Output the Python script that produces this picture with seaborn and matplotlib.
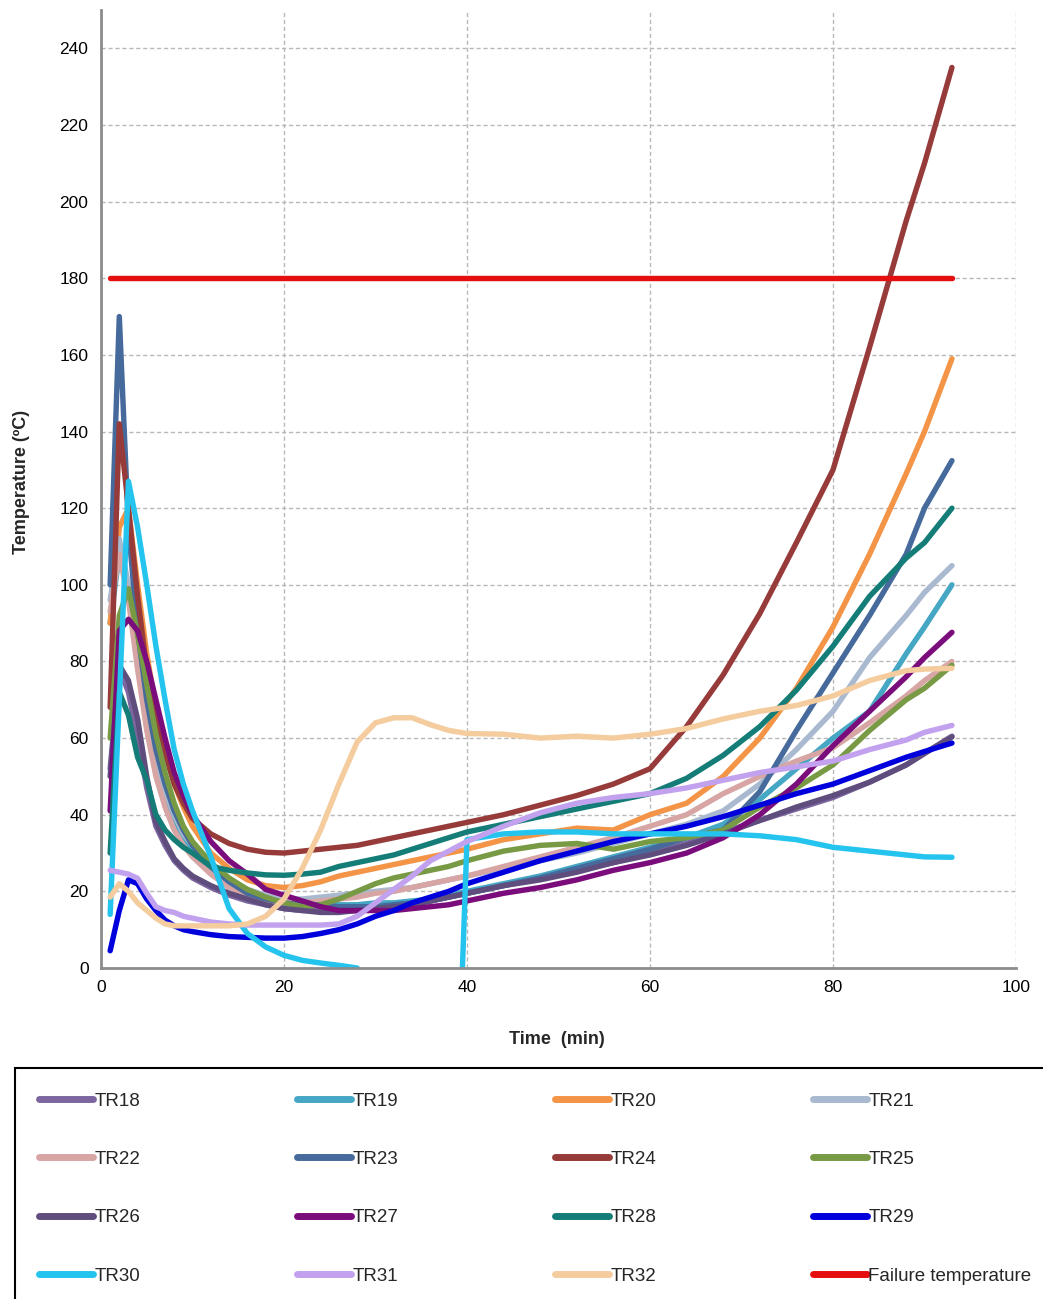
import numpy as np
import pandas as pd
import matplotlib
matplotlib.use("Agg")
import matplotlib.pyplot as plt
import seaborn as sns
from matplotlib.lines import Line2D

# ---------------- data ----------------
TIME = [1, 2, 3, 4, 5, 6, 7, 8, 9, 10,
        12, 14, 16, 18, 20, 22, 24, 26, 28, 30, 32, 34, 36, 38, 40,
        44, 48, 52, 56, 60, 64, 68, 72, 76, 80, 84, 88,
        90, 93]

TR18 = [52, 78, 72, 60, 47, 37, 32, 28, 25.5, 23.5,
        21, 19, 17.5, 16.5, 15.5, 15, 15, 15, 15, 15.5, 16, 16.5, 17.5, 18.5, 19.5,
        21.5, 23.5, 25.5, 27.5, 30, 32.5, 35.5, 38.5, 41.5, 44.5, 48.5, 53,
        56, 60.5]
TR19 = [90, 108, 98, 80, 64, 52, 44, 38, 34, 31,
        26, 22, 19.5, 18, 17, 16.5, 16.5, 16.5, 16.5, 17, 17, 17.5, 18, 19, 20,
        22, 24, 26.5, 29, 31.5, 34, 37.5, 44, 52, 60, 67, 82,
        89, 100]
TR20 = [90, 115, 120, 100, 82, 68, 57, 48, 42, 37,
        30, 26, 23, 21.5, 21, 21.5, 22.5, 24, 25, 26, 27, 28, 29, 30, 31,
        33.5, 35, 36.5, 36, 40, 43, 50, 60, 73, 89, 108, 129,
        140, 159]
TR21 = [96, 112, 100, 82, 66, 54, 46, 40, 35, 32,
        27, 23, 20.5, 19, 18, 18, 18.5, 19, 19.5, 20, 20.5, 21, 22, 23, 24,
        26, 28, 30, 32.5, 35, 37.5, 41, 48, 57, 67, 81, 92,
        98, 105]
TR22 = [93, 108, 96, 78, 62, 50, 42, 36, 32, 29,
        24.5, 21, 19, 17.5, 17, 17, 17.5, 18, 18.5, 19.5, 20, 21, 22, 23, 24,
        26.5, 29, 31.5, 34, 37, 40, 45.5, 50, 54, 57.5, 64, 71,
        75, 80]
TR23 = [100, 170, 115, 88, 70, 57, 48, 41, 36, 32,
        26.5, 22.5, 19.5, 18, 17, 16.5, 16.5, 16, 16, 16, 16.5, 17, 17.5, 18.5, 19.5,
        21.5, 23.5, 26, 28.5, 31, 34, 36, 46, 62, 77, 92, 108,
        120, 132.4]
TR24 = [68, 142, 120, 97, 78, 65, 56, 48, 43, 39,
        35, 32.5, 31, 30.2, 30, 30.5, 31, 31.5, 32, 33, 34, 35, 36, 37, 38,
        40, 42.5, 45, 48, 52, 63, 76.5, 92.5, 111, 130, 162, 195,
        210, 235]
TR25 = [60, 92, 99, 87, 74, 61, 51, 43, 37, 33,
        27.5, 23.5, 20.5, 18.5, 17, 16, 16.5, 18, 20, 22, 23.5, 24.5, 25.5, 26.5, 28,
        30.5, 32, 32.5, 31, 33, 34, 36, 42, 47, 53, 62, 70,
        73, 79]
TR26 = [50, 79, 75, 65, 50, 38, 33, 28.5, 26, 24,
        21.5, 19.5, 18, 16.5, 15.5, 15, 14.5, 14.5, 15, 15.5, 16, 16.5, 17.5, 18.5, 19.5,
        21.5, 23, 25, 27.5, 29.5, 32, 35, 38.5, 42, 45, 48.5, 53,
        56, 60.3]
TR27 = [41, 88, 91, 88, 80, 70, 60, 51, 45, 40,
        33, 28, 24.5, 20.5, 19, 17.5, 16, 15, 15, 15, 15, 15.5, 16, 16.5, 17.5,
        19.5, 21, 23, 25.5, 27.5, 30, 34, 40, 48, 58, 67, 76,
        81, 87.6]
TR28 = [30, 72, 66, 55, 49, 40, 36, 33.5, 31.5, 30,
        26.5, 25.5, 24.8, 24.3, 24.2, 24.5, 25, 26.5, 27.5, 28.5, 29.5, 31, 32.5, 34, 35.5,
        37.5, 39.5, 41.5, 43.5, 45.5, 49.5, 55.5, 63, 72.5, 84, 97, 107,
        111, 120]
TR29 = [4.5, 15, 23, 22, 18, 15, 12.5, 11, 10, 9.5,
        8.7, 8.2, 8, 7.8, 7.8, 8.2, 9, 10, 11.5, 13.5, 15, 17, 18.5, 20, 22,
        25, 28, 30.5, 33, 35, 37, 39.5, 42.5, 45.5, 48, 51.5, 55,
        56.5, 58.7]
TR31 = [25.5, 25, 24.5, 23.4, 19.5, 16, 15, 14.5, 13.5, 13,
        12, 11.5, 11.2, 11.2, 11.2, 11.2, 11.2, 11.5, 13.5, 17, 20.5, 24, 28, 30.5, 33,
        37, 40.5, 43, 44.5, 45.5, 47, 49, 51, 52.5, 54, 57, 59.5,
        61.5, 63.3]
TR32 = [18.5, 22, 20, 17, 15, 13, 11.5, 11, 11, 11,
        11, 11, 11.5, 13.5, 18, 26, 36, 48, 59, 64, 65.3, 65.3, 63.5, 62, 61.2,
        61, 60, 60.5, 60, 61, 62.5, 65, 67, 68.5, 71, 75, 77.6,
        78, 78.2]

# TR30 has a gap (sensor off-scale) between ~28 and ~39.5 min
TR30_TIME_A = [1, 2, 3, 4, 5, 6, 7, 8, 9, 10, 12, 14, 16, 18, 20, 22, 24, 26, 28]
TR30_A = [14, 70, 127, 115, 100, 84, 70, 57, 48, 41, 29, 15.5, 9, 5.5, 3.3, 2, 1.3, 0.7, 0]
TR30_TIME_B = [39.5, 40, 44, 48, 52, 56, 60, 64, 68, 72, 76, 80, 84, 88, 90, 93]
TR30_B = [0, 33.5, 35, 35.5, 35.5, 35, 35, 35, 35, 34.5, 33.5, 31.5, 30.5, 29.5, 29, 28.9]

FAIL_TIME = [1, 93]
FAIL_TEMP = [180, 180]

NAMES = ["TR18", "TR19", "TR20", "TR21", "TR22", "TR23", "TR24", "TR25",
         "TR26", "TR27", "TR28", "TR29", "TR30", "TR31", "TR32", "Failure temperature"]
COLORS = ["#7D66A0", "#45A7C4", "#F39447", "#A8B9D0", "#D6A5A4", "#456A9B", "#963B39", "#789A45",
          "#5F4D7E", "#7A0C7C", "#157D77", "#0000DC", "#25C4EE", "#C2A1EE", "#F4CC9E", "#E50F0F"]

# ---------------- build long table ----------------
series_vals = {"TR18": TR18, "TR19": TR19, "TR20": TR20, "TR21": TR21, "TR22": TR22,
               "TR23": TR23, "TR24": TR24, "TR25": TR25, "TR26": TR26, "TR27": TR27,
               "TR28": TR28, "TR29": TR29, "TR31": TR31, "TR32": TR32}
rows = []
for name, vals in series_vals.items():
    for t, v in zip(TIME, vals):
        rows.append((name, "a", t, v))
for t, v in zip(TR30_TIME_A, TR30_A):
    rows.append(("TR30", "a", t, v))
for t, v in zip(TR30_TIME_B, TR30_B):
    rows.append(("TR30", "b", t, v))
for t, v in zip(FAIL_TIME, FAIL_TEMP):
    rows.append(("Failure temperature", "a", t, v))
df = pd.DataFrame(rows, columns=["series", "segment", "time", "temp"])

# ---------------- plot ----------------
sns.set_style("white")
plt.rcParams['font.family'] = ['Liberation Sans', 'DejaVu Sans']

W, H = 1043, 1299
fig = plt.figure(figsize=(W / 100, H / 100), dpi=100)
ax = fig.add_axes([101 / W, 1 - 968 / H, 915 / W, 958 / H])

palette = dict(zip(NAMES, COLORS))
sns.lineplot(data=df, x="time", y="temp", hue="series", units="segment",
             estimator=None, sort=False, hue_order=NAMES, palette=palette,
             linewidth=3.9, legend=False, ax=ax,
             solid_capstyle="round", solid_joinstyle="round")

ax.set_xlim(0, 100)
ax.set_ylim(0, 250)
ax.set_xticks(np.arange(0, 101, 20))
ax.set_yticks(np.arange(0, 241, 20))
ax.grid(True, linestyle=(0, (3, 2)), color="#b8b8b8", linewidth=1.0)
ax.set_axisbelow(True)
for s in ["top", "right"]:
    ax.spines[s].set_visible(False)
for s in ["left", "bottom"]:
    ax.spines[s].set_color("#8c8c8c")
    ax.spines[s].set_linewidth(2)
ax.tick_params(axis="both", direction="out", length=5, width=1.2, color="#8c8c8c",
               labelsize=12.5, labelcolor="#000000", pad=4)
ax.set_xlabel("")
ax.set_ylabel("")

fig.text(557 / W, 1 - 1039 / H, "Time  (min)", ha="center", va="center",
         fontsize=13, fontweight="bold")
fig.text(22 / W, 1 - 482 / H, "Temperature (ºC)", ha="center", va="center",
         rotation=90, fontsize=13, fontweight="bold")

# legend: 4 columns, row-major order as in the reference
handles = [Line2D([0], [0], color=c, lw=5, solid_capstyle="round") for c in COLORS]
order = [r * 4 + c for c in range(4) for r in range(4)]
leg = fig.legend([handles[i] for i in order], [NAMES[i] for i in order],
                 loc="upper left", bbox_to_anchor=(15 / W, -0.1, (1056 - 15) / W, 1 - 1068 / H + 0.1),
                 mode="expand", ncol=4, fontsize=13.5, frameon=True, fancybox=False,
                 framealpha=1, edgecolor="black", handlelength=2.85, handletextpad=0.1,
                 borderpad=1.3, labelspacing=2.2, borderaxespad=0)
leg.get_frame().set_linewidth(1.5)

fig.savefig("out.png", dpi=100)
